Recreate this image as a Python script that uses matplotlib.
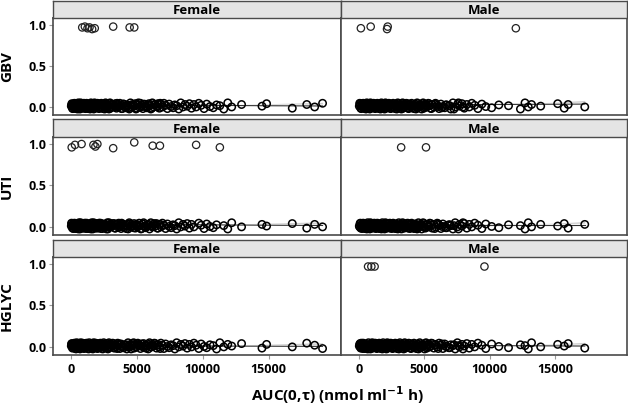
import matplotlib
matplotlib.use("Agg")
import matplotlib.pyplot as plt
import numpy as np

plt.rcParams.update({"font.family": ["Open Sans", "DejaVu Sans"], "font.weight": "bold"})

# ---- patient exposure, AUC(0,tau) nmol/ml*h ----
female_auc = [20, 60, 110, 150, 200, 260, 310, 350, 400, 460, 520, 570, 620, 680, 730, 790,
              840, 900, 950, 1010, 1070, 1120, 1180, 1240, 1300, 1350, 1410, 1480, 1540, 1600,
              1650, 1720, 1780, 1840, 1900, 1970, 2030, 2100, 2160, 2230, 2300, 2370, 2440,
              2510, 2580, 2650, 2720, 2800, 2880, 2960, 3040, 3120, 3200, 3280, 3370, 3450,
              3540, 3620, 3710, 3800, 3880, 3970, 4060, 4150, 4240, 4330, 4420, 4510, 4600,
              4700, 4790, 4880, 4980, 5070, 5170, 5270, 5360, 5460, 5560, 5660, 5760, 5860,
              5960, 6060, 6170, 6270, 6380, 6490, 6600, 6710, 6820, 6940, 7050, 7180, 7320,
              7450, 7600, 7750, 7880, 8020, 8180, 8330, 8500, 8650, 8820, 8990, 9150, 9330,
              9500, 9700, 9880, 10100, 10300, 10550, 10800, 11050, 11300, 11600, 11900,
              12200, 12950, 14500, 14850, 16800, 17900, 18500, 19100,
              40, 130, 180, 230, 290, 380, 430, 490, 550, 600, 650, 710, 760, 820, 870, 930,
              980, 1040, 1100, 1150, 1210, 1270, 1330, 1380, 1450, 1510, 1570, 1630, 1690,
              1750, 1810, 1870, 1940, 2000, 2070, 2130, 2200, 2260, 2330, 2400, 2480, 2550,
              2620, 2690, 2760, 2840, 2920, 3000, 3160, 3330, 3500, 3670, 3840, 4010, 4200,
              4380, 4560, 4750, 4930, 5120, 5310, 5510, 5710, 5910, 6120, 6330, 6550, 6770]
male_auc = [30, 90, 140, 210, 260, 330, 390, 450, 500, 570, 640, 700, 760, 830, 880, 950,
            1020, 1080, 1150, 1210, 1280, 1340, 1410, 1470, 1550, 1610, 1680, 1750, 1820,
            1880, 1960, 2030, 2100, 2170, 2250, 2320, 2390, 2470, 2540, 2620, 2700, 2780,
            2850, 2930, 3010, 3090, 3170, 3250, 3340, 3420, 3500, 3590, 3670, 3760, 3850,
            3940, 4030, 4120, 4210, 4310, 4400, 4500, 4600, 4700, 4800, 4910, 5020, 5130,
            5240, 5360, 5480, 5600, 5730, 5860, 5990, 6130, 6270, 6420, 6560, 6710, 6870,
            7030, 7190, 7360, 7530, 7700, 7880, 8060, 8250, 8440, 8630, 8850, 9100, 9400,
            9700, 10150, 10700, 11440, 12350, 12700, 12950, 13200, 13900, 15200, 15700,
            16000, 17270,
            60, 110, 180, 240, 300, 360, 420, 480, 540, 600, 670, 730, 800, 860, 920, 990,
            1050, 1120, 1180, 1250, 1310, 1380, 1440, 1510, 1580, 1650, 1720, 1790, 1850,
            1920, 2000, 2070, 2140, 2210, 2290, 2360, 2430, 2510, 2580, 2660, 2740, 2820,
            2890, 2970, 3050, 3130, 3210, 3300, 3380, 3460, 3550, 3630, 3720, 3810, 3900,
            3990, 4080, 4170, 4260, 4360, 4450, 4550, 4650, 4750, 4860, 4970, 5080, 5190,
            5300, 5420, 5540, 5800, 6060, 6350, 6640, 6950, 7270, 7610, 7960]

# ---- patients with the event (plotted at ~1) ----
ev_x = {
    ("GBV", "Female"): [850, 1050, 1250, 1400, 1600, 1800, 3200, 4450, 4800],
    ("GBV", "Male"): [150, 900, 2150, 2200, 12000],
    ("UTI", "Female"): [50, 300, 800, 1700, 1850, 2000, 3200, 4800, 6200, 6750, 9500, 11300],
    ("UTI", "Male"): [3230, 5130],
    ("HGLYC", "Female"): [],
    ("HGLYC", "Male"): [700, 950, 1200, 9600],
}
ev_y = {
    ("GBV", "Female"): [0.97, 0.98, 0.96, 0.97, 0.95, 0.96, 0.98, 0.97, 0.97],
    ("GBV", "Male"): [0.96, 0.98, 0.95, 0.98, 0.96],
    ("UTI", "Female"): [0.96, 0.99, 1.0, 0.99, 0.97, 1.0, 0.95, 1.02, 0.98, 0.98, 0.99, 0.96],
    ("UTI", "Male"): [0.96, 0.96],
    ("HGLYC", "Female"): [],
    ("HGLYC", "Male"): [0.97, 0.97, 0.97, 0.97],
}
# vertical display jitter of the non-event points
jit = [0.01, 0.04, -0.015, 0.03, 0.0, 0.045, 0.02, -0.02, 0.035, 0.005, -0.01, 0.025,
       0.015, -0.025, 0.05, 0.0, 0.03]

# ---- logistic fit with confidence band ----
fit_x = {"Female": [0, 5000, 10000, 15000, 19100], "Male": [0, 5000, 10000, 15000, 17270]}
fit_y = {
    ("GBV", "Female"): [0.03, 0.025, 0.02, 0.015, 0.012],
    ("GBV", "Male"): [0.025, 0.028, 0.03, 0.033, 0.035],
    ("UTI", "Female"): [0.035, 0.03, 0.025, 0.02, 0.017],
    ("UTI", "Male"): [0.02, 0.02, 0.02, 0.02, 0.02],
    ("HGLYC", "Female"): [0.02, 0.015, 0.01, 0.008, 0.006],
    ("HGLYC", "Male"): [0.025, 0.02, 0.015, 0.012, 0.01],
}
fit_lo = [0.012, 0.008, -0.005, -0.025, -0.045]
fit_hi = [0.012, 0.01, 0.012, 0.018, 0.025]

rows = ["GBV", "UTI", "HGLYC"]
cols = ["Female", "Male"]
auc = {"Female": female_auc, "Male": male_auc}

W, H = 628, 405
fig = plt.figure(figsize=(W / 100, H / 100), dpi=100)
col_px = [(53, 341), (341, 627)]
row_px = [(1, 18, 115), (119, 137, 235), (240, 257, 355)]
edge = "#4a4a4a"

for i, r in enumerate(rows):
    st, top, bot = row_px[i]
    for j, c in enumerate(cols):
        x0, x1 = col_px[j]
        ax = fig.add_axes([x0 / W, 1 - bot / H, (x1 - x0) / W, (bot - top) / H])
        sx = fig.add_axes([x0 / W, 1 - top / H, (x1 - x0) / W, (top - st) / H])
        sx.set_facecolor("#e4e4e4")
        sx.set_xticks([]); sx.set_yticks([])
        for s in sx.spines.values():
            s.set_color(edge); s.set_linewidth(1.0)
        sx.text(0.5, 0.42, c, ha="center", va="center", fontsize=9.5, fontweight="bold",
                transform=sx.transAxes)

        fx = np.array(fit_x[c]); fy = np.array(fit_y[(r, c)])
        ax.fill_between(fx, fy - np.array(fit_lo), fy + np.array(fit_hi), color="#cfcfcf", lw=0, zorder=1)
        ax.plot(fx, fy, color="#333333", lw=0.8, zorder=2)

        xs = [x for x in auc[c] if x not in ev_x[(r, c)]]
        ys = [jit[k % len(jit)] for k in range(len(xs))]
        ax.scatter(xs, ys, s=28, facecolors="none", edgecolors="black", linewidths=1.1, zorder=3)
        ax.scatter(ev_x[(r, c)], ev_y[(r, c)], s=28, facecolors="none", edgecolors="#222222",
                   linewidths=0.9, zorder=3)

        ax.set_xlim(-1370, 20500)
        ax.set_ylim(-0.098, 1.085)
        for s in ax.spines.values():
            s.set_color(edge); s.set_linewidth(1.2)
        ax.tick_params(colors="#9a9a9a", length=3, width=0.8, labelcolor="black", labelsize=9, pad=1.5)
        ax.set_yticks([0, 0.5, 1.0])
        if j == 0:
            ax.set_yticklabels(["0.0", "0.5", "1.0"])
            ax.set_ylabel(r, fontsize=11, fontweight="bold")
            ax.yaxis.set_label_coords(-0.135, 0.5)
        else:
            ax.tick_params(axis="y", length=0, labelleft=False)
        ax.set_xticks([0, 5000, 10000, 15000])
        if i == 2:
            ax.set_xticklabels(["0", "5000", "10000", "15000"])
            ax.tick_params(axis="x", pad=3)
        else:
            ax.tick_params(axis="x", length=0, labelbottom=False)

fig.text(337 / W, 1 - 395 / H, "AUC(0,τ) (nmol ml$^{\\mathbf{-1}}$ h)", ha="center", va="center",
         fontsize=11, fontweight="bold")
fig.savefig("out.png", dpi=100)
